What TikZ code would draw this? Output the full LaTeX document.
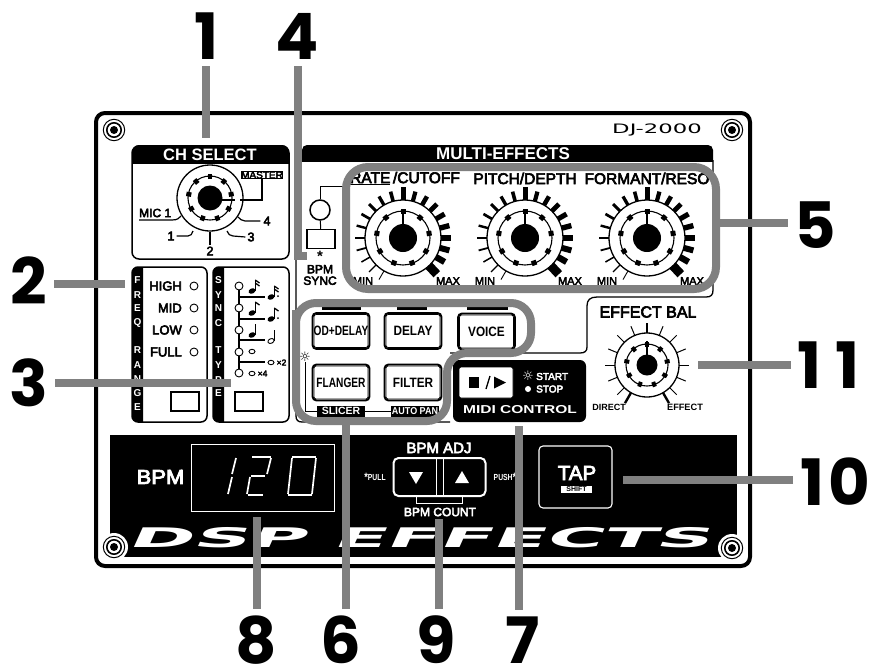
\documentclass[tikz,border=0pt]{standalone}
\usepackage{fontspec}
\setmainfont{Liberation Sans}
\newfontfamily\bigfont[Scale=1]{Poppins}
\newfontfamily\djv{DejaVu Sans}
\newfontfamily\med[FakeBold=4]{Liberation Sans}
\tikzset{
  leader/.style={draw=leadgray,line width=7.5pt},
  ring6/.style={draw=leadgray,line width=8pt,rounded corners=20pt},
  bignum/.style={font=\bigfont\bfseries\fontsize{64}{64}\selectfont,inner sep=0pt,outer sep=7pt,text=black},
  lab/.style={inner sep=0pt,font=\bfseries\fontsize{#1}{#1}\selectfont},
  lab/.default=12,
  mlab/.style={inner sep=0pt,font=\med\fontsize{#1}{#1}\selectfont},
  mlab/.default=12,
  wlab/.style={inner sep=0pt,text=white,font=\bfseries\fontsize{#1}{#1}\selectfont},
  wlab/.default=12,
  wmlab/.style={inner sep=0pt,text=white,font=\med\fontsize{#1}{#1}\selectfont},
  wmlab/.default=12,
  smallbox/.style={draw=black,line width=1.5pt,minimum width=0pt,fill=white},
  led/.style={circle,draw=black,line width=.9pt,fill=white,minimum size=8pt,inner sep=0pt},
  stripletter/.style={inner sep=0pt,text=white,font=\bfseries\fontsize{10}{10}\selectfont},
  seg/.style={draw=white,line width=1.7pt},
}
\definecolor{leadgray}{gray}{.5}
\newcommand{\screw}[2]{%
  \fill[white] (#1,#2) circle (14);
  \draw[line width=1pt] (#1,#2) circle (10.7);
  \draw[line width=1.6pt] (#1,#2) circle (7.2);
  \fill (#1,#2) circle (4);}
\newcommand{\knobcore}[5]{% x y outer ring core
  \draw[line width=1.3pt,fill=white] (#1,#2) circle (#3);
  \draw[line width=1.1pt] (#1,#2) circle (#4);
  \foreach \k in {0,...,8}{\pgfmathsetmacro{\ka}{90+40*\k}
    \draw[line width=#5pt] ({#1+(#4-3)*cos(\ka)},{#2-(#4-3)*sin(\ka)}) -- ({#1+(#4+2)*cos(\ka)},{#2-(#4+2)*sin(\ka)});}
}
\newcommand{\bigknob}[2]{%
  \foreach \i in {0,...,18}{\pgfmathsetmacro{\a}{240-15*\i}\pgfmathsetmacro{\w}{.9+.3*\i}
    \draw[line width=\w pt] ({#1+36*cos(\a)},{#2-36*sin(\a)}) -- ({#1+48*cos(\a)},{#2-48*sin(\a)});}
  \draw[line width=9pt] ({#1+37*cos(-47)},{#2-37*sin(-47)}) -- ({#1+49.5*cos(-47)},{#2-49.5*sin(-47)});
  \draw[line width=5pt] (#1,#2-36) -- (#1,#2-51);
  \knobcore{#1}{#2}{38}{27}{5}
  \fill (#1,#2) circle (14);
  \draw[line width=2.4pt] (#1,#2) -- (#1,#2-27);
}
\newcommand{\noteq}[3][0]{% x y type: head+stem
  \fill[rotate around={25:(#2,#3)}] (#2,#3) ellipse (3.6 and 2.6);
  \draw[line width=1pt] (#2+3.2,#3) -- (#2+3.2,#3-11);
}
\newcommand{\flag}[3]{\draw[line width=1.3pt] (#1+3.2,#2-11+#3) -- (#1+7.5,#2-8+#3);}
\begin{document}
\begin{tikzpicture}[x=1pt,y=-1pt]
\useasboundingbox (0,0) rectangle (879,670);
\fill[white] (0,0) rectangle (879,670);
% panel
\draw[line width=4pt,rounded corners=9pt,fill=white] (96,113) rectangle (750,566);
\fill (110,435) rectangle (737,557);
\screw{114}{130}\screw{732}{130}\screw{114}{547}\screw{732}{548}
\node[inner sep=0pt] (logo) at (657,130) {\scalebox{1.75}[1]{\djv\fontsize{13}{13}\selectfont DJ-2000}};
% CH SELECT
\draw[line width=1.5pt,rounded corners=7pt] (132,146) rectangle (289,259);
\begin{scope}\clip (125,140) rectangle (295,163);
\fill[rounded corners=7pt] (132,145) rectangle (289,185);
\end{scope}
\node[wlab=16.5] (chsel) at (210,154.5) {CH SELECT};
\node[draw,line width=1pt,inner sep=1pt,mlab=10] (master) at (262,175) {MASTER};
\knobcore{210}{198}{33}{22}{4.5}
\fill (210,198) circle (12.5);
\coordinate (mk) at (240,200);
\draw[line width=2.6pt] (210,200) -- (235,200);
\draw[line width=1.5pt] (master.south) |- (mk);
\node[mlab=12,anchor=west] (mic) at (139,213) {MIC 1};
\draw[line width=1.2pt] (139,220) -- (172,220) .. controls (178,220) and (179,218) .. (181,216);
\node[mlab=12.5] (c1) at (171,236) {1};
\draw[line width=1.2pt] (c1.east)++(2,0) -- (188,236) .. controls (191,236) and (192,234) .. (193,231);
\node[mlab=12.5] (c2) at (210,251) {2};
\draw[line width=1.2pt] (c2.north)++(0,-1) -- (210,232);
\node[mlab=12.5] (c3) at (251,237) {3};
\draw[line width=1.2pt] (c3.west)++(-2,0) -- (233,236) .. controls (230,236) and (228,234) .. (227,231);
\node[mlab=12.5] (c4) at (267,221) {4};
\draw[line width=1.2pt] (c4.west)++(-3,0) -- (245,221) .. controls (242,221) and (240,219) .. (238,217);
% multi effects frame
\begin{scope}\clip (295,140) rectangle (720,161);
\fill[rounded corners=5pt] (302,145) rectangle (713,180);
\end{scope}
\node[wlab=17] (multi) at (503,153.5) {MULTI-EFFECTS};
\draw[line width=1.3pt] (713,160) -- (713,290) .. controls (713,295) and (711,297) .. (706,297) -- (597,297) .. controls (590,297) and (587,300) .. (587,306) -- (587,347) .. controls (587,351) and (585,353) .. (580,353) -- (450,353);
\draw[line width=1.3pt] (296,160) -- (296,416) .. controls (296,420) and (298,422) .. (302,422) -- (450,422);
% knobs
\bigknob{403}{238}\bigknob{525}{238}\bigknob{647}{238}
\node[mlab=11] (min1) at (363,281) {MIN};\node[mlab=11] (max1) at (448,281) {MAX};
\node[mlab=11] (min2) at (485,281) {MIN};\node[mlab=11] (max2) at (570,281) {MAX};
\node[mlab=11] (min3) at (607,281) {MIN};\node[mlab=11] (max3) at (692,281) {MAX};
\node[mlab=15.5,anchor=west] (rate) at (350,178.5) {\underline{RATE}\,/CUTOFF};
\node[mlab=15.5] (pitch) at (525,178.5) {PITCH/DEPTH};
\node[mlab=15.5] (form) at (647,178.5) {FORMANT/RESO};
% bpm sync
\node[circle,draw,line width=1.5pt,minimum size=20pt,inner sep=0pt,fill=white] (synled) at (320,210) {};
\node[smallbox,minimum width=28pt,minimum height=19pt,inner sep=0pt] (synbtn) at (321,239) {};
\coordinate (synup) at (346,186);
\draw[line width=1pt] (synled.north) |- (synup);
\draw[line width=1pt] (synled) -- (synbtn);
\node[lab=15] (ast) at (320,256.5) {*};
\node[align=center,inner sep=0pt,font=\med\fontsize{12}{11.5}\selectfont] (bpmsync) at (320,275) {BPM\\SYNC};
% freq box
\draw[line width=1.5pt,rounded corners=6pt] (132,267) rectangle (207,422);
\begin{scope}\clip (125,260) rectangle (143,430);
\fill[rounded corners=6pt] (132,267) rectangle (160,422);
\end{scope}
\foreach \t/\y in {F/280,R/295,E/308,Q/323,R/350,A/365,N/379,G/393,E/407}{\node[stripletter] at (137.5,\y) {\t};}
\node[mlab=13,anchor=east] (high) at (182,286) {HIGH};
\node[led] (lh) at (194,286) {};
\node[mlab=13,anchor=east] (mid) at (182,308) {MID};
\node[led] (lm) at (194,308) {};
\node[mlab=13,anchor=east] (low) at (182,330) {LOW};
\node[led] (ll) at (194,330) {};
\node[mlab=13,anchor=east] (full) at (182,352) {FULL};
\node[led] (lf) at (194,352) {};
\node[smallbox,minimum width=28pt,minimum height=19pt,inner sep=0pt] (fbtn) at (185,401.5) {};
% sync box
\draw[line width=1.5pt,rounded corners=6pt] (213,267) rectangle (289,422);
\begin{scope}\clip (205,260) rectangle (224,430);
\fill[rounded corners=6pt] (213,267) rectangle (240,422);
\end{scope}
\foreach \t/\y in {S/280,Y/295,N/308,C/323,T/350,Y/365,P/380,E/393}{\node[stripletter] at (218.5,\y) {\t};}
\node[smallbox,minimum width=28pt,minimum height=19pt,inner sep=0pt] (sbtn) at (249,401.5) {};
\draw[line width=1.5pt] (239,286) -- (239,373);
\foreach \y in {297,319,340,362}{\draw[line width=1.5pt] (239,\y) -- (265,\y);}
\foreach \n/\y in {s1/286,s2/308,s3/330,s4/352,s5/373}{\node[led] (\n) at (239,\y) {};}
\noteq{252}{291}\flag{252}{291}{0}\flag{252}{291}{3}
\noteq{271}{297}\flag{271}{297}{0}\flag{271}{297}{3}\fill (278,296) circle (1);
\noteq{252}{313}\flag{252}{313}{0}
\noteq{271}{319}\flag{271}{319}{0}\fill (278,318) circle (1);
\noteq{252}{335}
\draw[line width=.9pt,rotate around={25:(271,341)}] (271,341) ellipse (3.2 and 2.3);
\draw[line width=1pt] (274,341) -- (274,330);
\draw[line width=.9pt] (252,351.5) ellipse (3 and 2.2);
\draw[line width=.9pt] (271,362.5) ellipse (3 and 2.2);
\node[mlab=8.5] (x2) at (281.5,362.5) {×2};
\draw[line width=.9pt] (252,373.5) ellipse (3 and 2.2);
\node[mlab=8.5] (x4) at (262.5,373.5) {×4};
% buttons
\foreach \nm/\x/\y in {od/341/331,del/413/331,voi/486.5/331.5,fla/341/382.5,fil/413/382.5}{
  \node[draw,line width=1.9pt,rounded corners=4pt,minimum width=57pt,minimum height=36pt,inner sep=0pt,fill=white] (\nm) at (\x,\y) {};
  \draw[line width=.7pt,rounded corners=2pt] ([shift={(2.5,-2.5)}]\nm.south west) rectangle ([shift={(-2.5,2.5)}]\nm.north east);
}
\node[lab=11.8] at (od) {\scalebox{.86}[1.15]{OD+DELAY}};
\node[lab=11.8] at (del) {\scalebox{1}[1.15]{DELAY}};
\node[lab=11.8] at (voi) {\scalebox{1}[1.15]{VOICE}};
\node[lab=11.8] at (fla) {\scalebox{.86}[1.15]{FLANGER}};
\node[lab=11.8] at (fil) {\scalebox{1}[1.15]{FILTER}};
\fill (322,304) rectangle (361,310);\fill (397,304) rectangle (427,310);\fill (467,304) rectangle (508,310);
% slicer bracket
\node[inner sep=0pt,font=\djv\bfseries\fontsize{13}{13}\selectfont] (sun) at (305,357) {☼};
\draw[line width=1pt] (sun.south) |- (442,411);
\node[fill=black,text=white,inner sep=1pt,font=\bfseries\fontsize{10.5}{10.5}\selectfont,minimum width=48pt,minimum height=11pt] (slicer) at (341,411) {SLICER};
\node[fill=black,text=white,inner sep=1pt,font=\bfseries\fontsize{10}{10}\selectfont,minimum width=42pt,minimum height=11pt] (autop) at (415,411) {\scalebox{.9}[1]{AUTO PAN}};
% midi
\fill[rounded corners=6pt] (453,360) rectangle (586,422);
\node[draw=black,fill=white,line width=.8pt,rounded corners=2pt,minimum width=54pt,minimum height=31pt,inner sep=0pt] (midibtn) at (486,382.5) {};
\fill (469,377) rectangle (479,388);
\draw[line width=1.3pt] (486,389) -- (490,376);
\fill (494,376.5) -- (506,382.5) -- (494,388.5) -- cycle;
\node[inner sep=0pt,text=white,font=\djv\bfseries\fontsize{13}{13}\selectfont] (sun2) at (528,376) {☼};
\node[wmlab=10,anchor=west] (start) at (536,376.5) {START};
\fill[white] (528,389) circle (3);
\node[wmlab=10,anchor=west] (stop) at (536,389) {STOP};
\node[wlab=11.5] (midictl) at (520,410) {\scalebox{1.35}[1]{MIDI CONTROL}};
% effect bal
\foreach \i in {0,...,12}{\pgfmathsetmacro{\a}{225-22.5*\i}
  \draw[line width=1pt] ({647+30*cos(\a)},{365-30*sin(\a)}) -- ({647+42*cos(\a)},{365-42*sin(\a)});}
\draw[line width=2.4pt] ({647+30*cos(240)},{365-30*sin(240)}) -- ({647+44*cos(240)},{365-44*sin(240)});
\draw[line width=2.4pt] ({647+30*cos(-60)},{365-30*sin(-60)}) -- ({647+44*cos(-60)},{365-44*sin(-60)});
\draw[line width=2pt] (647,323) -- (647,335);
\knobcore{647}{365}{32}{21}{4}
\fill (647,365) circle (10.5);
\draw[line width=2.2pt] (647,365) -- (647,341);
\node[mlab=16] (ebal) at (648,312) {EFFECT BAL};
\node[lab=9] (direct) at (609,407) {DIRECT};
\node[lab=9.2] (effect) at (685,407) {EFFECT};
% band content
\node[wmlab=20] (bpmt) at (160.5,477) {\scalebox{1.1}[1]{BPM}};
\node[draw=white,line width=.9pt,minimum width=143pt,minimum height=67pt,inner sep=0pt] (disp) at (262.5,477.5) {};
\draw[seg] (236,458) -- (232,474);\draw[seg] (232,477) -- (228,494);
\draw[seg] (252,457) -- (271,457);\draw[seg] (271,458) -- (267,474);\draw[seg] (251,476) -- (265,476);\draw[seg] (250,477) -- (247,494);\draw[seg] (248,495) -- (263,495);
\draw[seg] (292,457) -- (316,457);\draw[seg] (316,458) -- (312,494);\draw[seg] (312,495) -- (288,495);\draw[seg] (288,494) -- (292,458);
\node[wmlab=15] (bpmadj) at (439,448) {BPM ADJ};
\node[draw=white,line width=2pt,rounded corners=5pt,minimum width=92pt,minimum height=38pt,inner sep=0pt] (adj) at (439.5,477) {};
\draw[white,line width=.8pt] (436,458) -- (436,496);
\draw[white,line width=.8pt] (443,458) -- (443,496);
\fill[white] (409,472) -- (423,472) -- (416,484) -- cycle;
\fill[white] (455,483) -- (469,483) -- (462,471) -- cycle;
\draw[white,line width=.9pt] (416,497) -- (416,503) -- (462,503) -- (462,497);
\node[wmlab=12] (count) at (440,512) {BPM COUNT};
\node[inner sep=0pt,text=white,font=\bfseries\fontsize{8}{8}\selectfont] (pull) at (375,477) {\scalebox{.85}[1.1]{\raisebox{-1pt}{\fontsize{11}{11}\selectfont *}PULL}};
\node[inner sep=0pt,text=white,font=\bfseries\fontsize{8}{8}\selectfont] (push) at (505,477) {\scalebox{.85}[1.1]{PUSH\raisebox{-1pt}{\fontsize{11}{11}\selectfont *}}};
\node[draw=white,line width=1.1pt,rounded corners=4pt,minimum width=73pt,minimum height=62pt,inner sep=0pt] (tap) at (575.5,477) {};
\node[wmlab=20.5] (taptext) at (577,473) {TAP};
\node[fill=white,text=black,inner sep=0pt,minimum width=31pt,minimum height=7.5pt,font=\bfseries\fontsize{7}{7}\selectfont] (shift) at (576.5,489.5) {SHIFT};
\node[inner sep=0pt,text=white,xslant=.45] (dsp) at (423,538) {\scalebox{2.88}[1]{\djv\bfseries\fontsize{27}{27}\selectfont DSP EFFECTS}};
% gray outlines
\draw[ring6,rounded corners=22pt] (346,167) rectangle (716,289);
\draw[ring6] (296,330) -- (296,303) -- (531,303) -- (531,353) -- (447,353) -- (447,421) -- (296,421) -- cycle;
% leaders
\node[bignum] (n1) at (207,36) {1};
\node[bignum] (n4) at (297,36) {4};
\node[bignum] (n2) at (29,281) {2};
\node[bignum] (n3) at (29,382.5) {3};
\node[bignum] (n5) at (815.5,225.5) {5};
\node[bignum] (n11) at (829,365.5) {1\kern14pt 1};
\node[bignum] (n10) at (835,481.5) {1\kern4pt 0};
\node[bignum] (n8) at (256,640) {8};
\node[bignum] (n6) at (341,640) {6};
\node[bignum] (n9) at (436,640) {9};
\node[bignum] (n7) at (523,640) {7};
\coordinate (l1) at (206,138);\draw[leader] (n1.south -| l1) -- (l1);
\coordinate (l2) at (125,284);\draw[leader] (n2.east |- l2) -- (l2);
\coordinate (l3) at (231,383);\draw[leader] (n3.east |- l3) -- (l3);
\coordinate (l4) at (298,256);\coordinate (l4b) at (307,256);\draw[leader] (n4.south -| l4) -- (l4) -- (l4b);
\coordinate (l5) at (720,223);\draw[leader] (n5.west |- l5) -- (l5);
\coordinate (l6) at (346,423);\draw[leader] (n6.north -| l6) -- (l6);
\coordinate (l7) at (519,426);\draw[leader] (n7.north -| l7) -- (l7);
\coordinate (l8) at (257,517);\draw[leader] (n8.north -| l8) -- (l8);
\coordinate (l9) at (439,519);\draw[leader] (n9.north -| l9) -- (l9);
\coordinate (l10) at (623,480);\draw[leader] (n10.west |- l10) -- (l10);
\coordinate (l11) at (698,365);\draw[leader] (n11.west |- l11) -- (l11);
\end{tikzpicture}
\end{document}
